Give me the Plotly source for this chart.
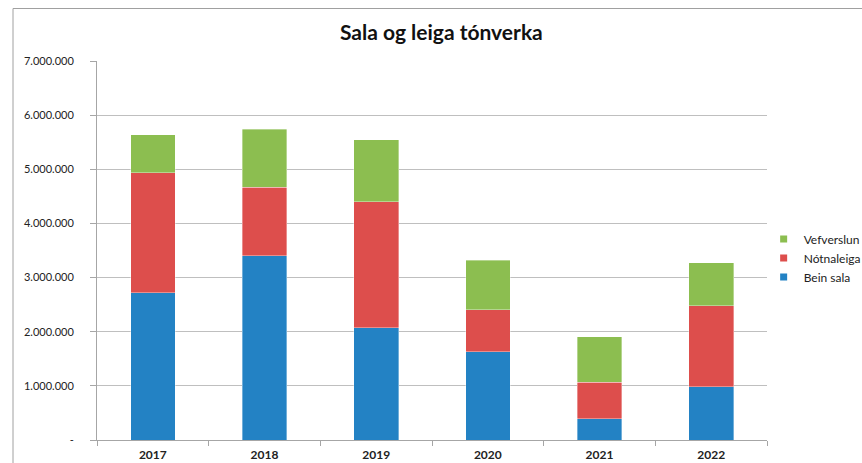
import plotly.graph_objects as go

years = ["2017", "2018", "2019", "2020", "2021", "2022"]
bein_sala = [2720000, 3400000, 2070000, 1630000, 390000, 985000]
notnaleiga = [2220000, 1270000, 2330000, 780000, 680000, 1495000]
vefverslun = [700000, 1070000, 1150000, 910000, 840000, 790000]
tick_vals = [0, 1000000, 2000000, 3000000, 4000000, 5000000, 6000000, 7000000]
tick_text = ["-", "1.000.000", "2.000.000", "3.000.000", "4.000.000",
             "5.000.000", "6.000.000", "7.000.000"]

C_BLUE = "#2382C4"
C_RED = "#DD4E4C"
C_GREEN = "#8CBE50"
FONT = "Lato"

fig = go.Figure()
for name, vals, col in [("Bein sala", bein_sala, C_BLUE),
                        ("Nótnaleiga", notnaleiga, C_RED),
                        ("Vefverslun", vefverslun, C_GREEN)]:
    fig.add_trace(go.Bar(x=years, y=vals, name=name, showlegend=False,
                         marker=dict(color=col, line=dict(color="rgba(255,255,255,0.6)", width=0.6)),
                         hoverinfo="x+y+name"))

# legend entries (small square swatches)
for name, col in [("Vefverslun", C_GREEN), ("Nótnaleiga", C_RED), ("Bein sala", C_BLUE)]:
    fig.add_trace(go.Scatter(x=[None], y=[None], mode="markers", name=name,
                             marker=dict(symbol="square", size=7, color=col)))

fig.update_layout(
    width=862, height=463,
    margin=dict(l=97, r=95, t=61, b=23, autoexpand=False),
    paper_bgcolor="white", plot_bgcolor="white",
    barmode="stack", bargap=0.6,
    font=dict(family=FONT, size=11, color="#222"),
    title=dict(text="<b>Sala og leiga tónverka</b>", x=0.512, xanchor="center",
               y=0.93, yanchor="middle", font=dict(family=FONT, size=21, color="#111")),
    legend=dict(x=0.995, xanchor="left", y=0.48, yanchor="middle",
                traceorder="normal", font=dict(family=FONT, size=12, color="#222"),
                itemwidth=30, tracegroupgap=0, bgcolor="rgba(0,0,0,0)"),
    xaxis=dict(type="category", showline=True, linecolor="#a6a6a6", linewidth=1,
               ticks="outside", tickson="boundaries", ticklen=5, tickcolor="#a6a6a6",
               ticklabelstandoff=4,
               tickfont=dict(family=FONT, size=12, color="#222", weight="bold"),
               showgrid=False, automargin=False),
    yaxis=dict(range=[0, 7000000], tickvals=tick_vals, ticktext=tick_text,
               showline=True, linecolor="#a6a6a6", linewidth=1,
               ticks="outside", ticklen=6, tickcolor="#a6a6a6",
               ticklabelstandoff=14, automargin=False,
               showgrid=True, gridcolor="#bfbfbf", gridwidth=1,
               zeroline=False, tickfont=dict(family=FONT, size=11, color="#222")),
    shapes=[dict(type="rect", xref="paper", yref="paper",
                 x0=(13 - 97) / 670, x1=(880 - 97) / 670,
                 y0=(440 - 480) / 379, y1=(440 - 8.5) / 379,
                 line=dict(color="#a0a0a0", width=1), layer="below")],
)

fig.write_html("out.html", config={"displayModeBar": False},
               post_script="document.body.style.margin='0';document.body.style.overflow='hidden';")
